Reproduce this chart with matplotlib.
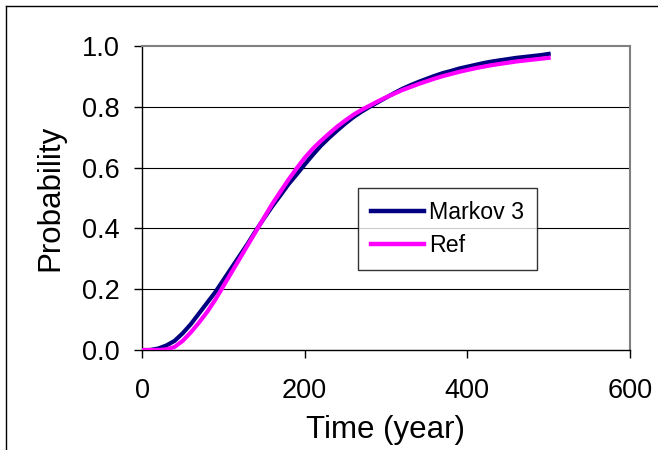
import numpy as np
import matplotlib
matplotlib.use("Agg")
import matplotlib.pyplot as plt
from matplotlib.lines import Line2D

plt.rcParams['font.family'] = ['Liberation Sans', 'DejaVu Sans']

# tempo em anos, passo de 10
tempo = np.arange(0, 510, 10)

markov3 = [0.0, 0.0, 0.005, 0.015, 0.03, 0.055, 0.085, 0.12, 0.155, 0.19,
           0.23, 0.27, 0.31, 0.35, 0.393, 0.433, 0.472, 0.508, 0.545, 0.577,
           0.61, 0.642, 0.672, 0.698, 0.722, 0.745, 0.766, 0.784, 0.8, 0.815,
           0.83, 0.845, 0.859, 0.871, 0.882, 0.892, 0.902, 0.911, 0.918, 0.926,
           0.932, 0.938, 0.944, 0.949, 0.953, 0.957, 0.961, 0.964, 0.967, 0.970,
           0.974]

ref = [0.0, 0.0, 0.0, 0.002, 0.01, 0.03, 0.058, 0.09, 0.125, 0.165,
       0.21, 0.255, 0.3, 0.345, 0.39, 0.435, 0.48, 0.52, 0.56, 0.597,
       0.632, 0.662, 0.688, 0.712, 0.735, 0.755, 0.774, 0.79, 0.804, 0.818,
       0.831, 0.843, 0.855, 0.865, 0.875, 0.884, 0.893, 0.901, 0.908, 0.915,
       0.921, 0.927, 0.932, 0.937, 0.941, 0.945, 0.949, 0.952, 0.955, 0.958,
       0.961]

x_ticks = [0, 200, 400, 600]
y_ticks = [0.0, 0.2, 0.4, 0.6, 0.8, 1.0]

fig = plt.figure(figsize=(6.58, 4.5), dpi=100)
ax = fig.add_axes([142/658, 100/450, 488/658, 304/450])

# moldura externa (so esquerda e topo aparecem)
fig.add_artist(Line2D([6/658, 6/658], [0, 1 - 6/450], transform=fig.transFigure,
                      color='black', lw=1))
fig.add_artist(Line2D([6/658, 1], [1 - 6/450, 1 - 6/450], transform=fig.transFigure,
                      color='black', lw=1))

for y in y_ticks[1:-1]:
    ax.axhline(y, color='black', lw=0.8, zorder=1)

ax.plot(tempo, markov3, color='#000080', lw=3, label='Markov 3', zorder=3)
ax.plot(tempo, ref, color='#FF00FF', lw=3, label='Ref', zorder=4)

ax.set_xlim(0, 600)
ax.set_ylim(0, 1.0)
ax.set_xticks(x_ticks)
ax.set_yticks(y_ticks)
ax.set_yticklabels([f"{v:.1f}" for v in y_ticks])
ax.tick_params(direction='out', length=6, width=1, labelsize=19.5, color='black')
ax.tick_params(axis='y', pad=10)
ax.tick_params(axis='x', pad=14)

for s in ['left', 'bottom']:
    ax.spines[s].set_color('black')
    ax.spines[s].set_linewidth(1)
for s in ['top', 'right']:
    ax.spines[s].set_color('#808080')
    ax.spines[s].set_linewidth(1.5)

ax.set_xlabel("Time (year)", fontsize=22.5, labelpad=8)
ax.set_ylabel("Probability", fontsize=22.5, labelpad=12)

leg = ax.legend(loc='upper left', bbox_to_anchor=(358/658, 1 - 188/450),
                bbox_transform=fig.transFigure, borderaxespad=0,
                fontsize=16.7, frameon=True, fancybox=False, shadow=False,
                handlelength=2.3, handletextpad=0.2, borderpad=0.55,
                labelspacing=0.45)
leg.get_frame().set_edgecolor('black')
leg.get_frame().set_linewidth(1)
for h in leg.get_lines():
    h.set_linewidth(3.2)

fig.savefig("out.png", dpi=100)
